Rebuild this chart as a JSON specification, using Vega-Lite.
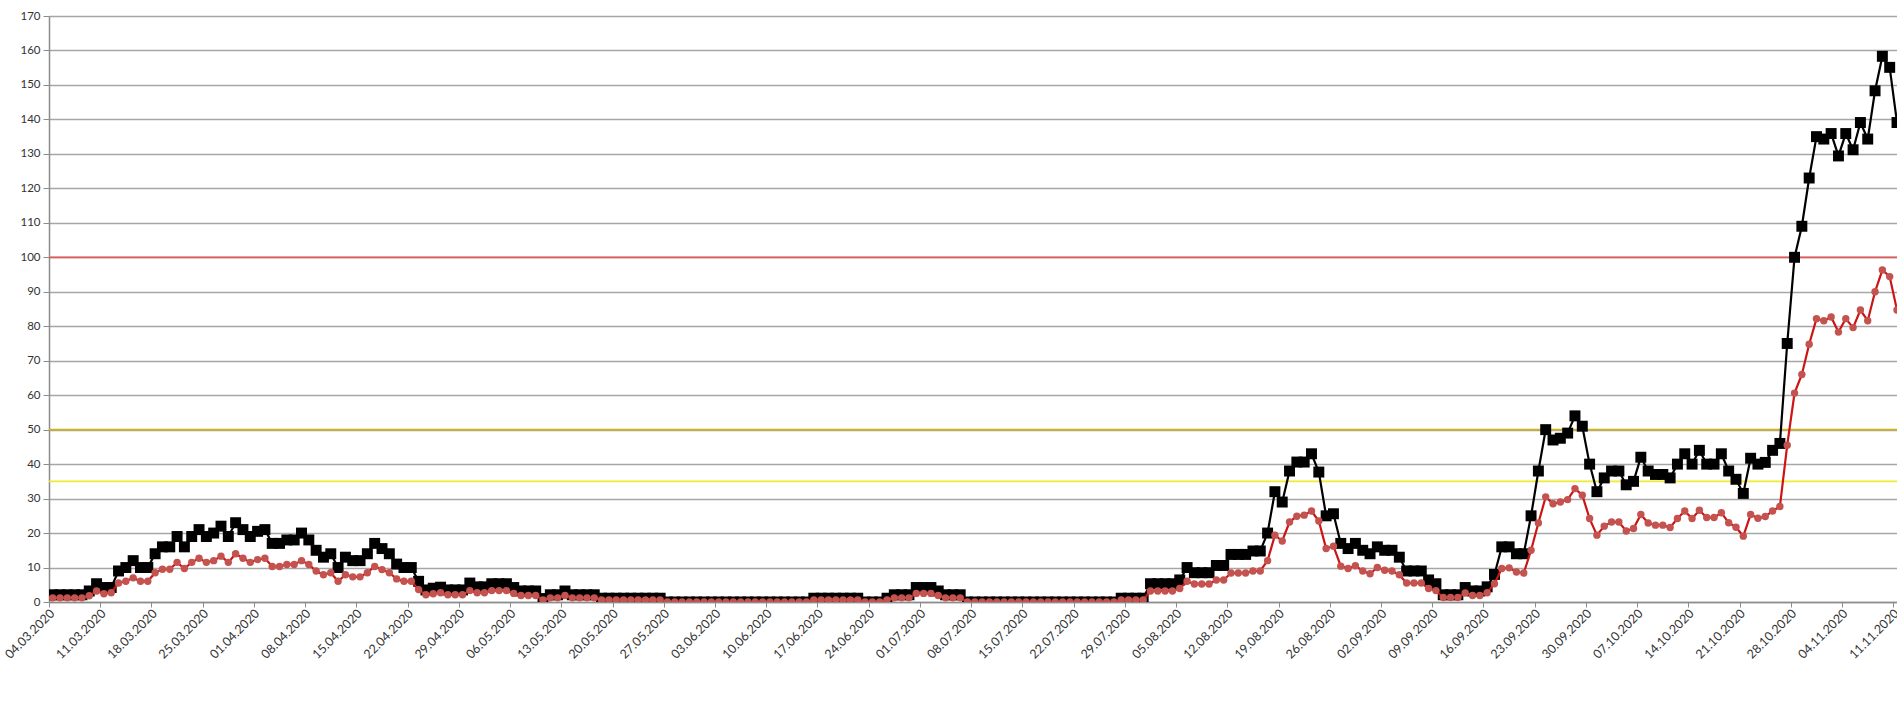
{
"$schema": "https://vega.github.io/schema/vega-lite/v6.json",
"width": 1848,
"height": 586,
"autosize": {"type": "none"},
"padding": {"left": 49, "top": 16, "right": 0, "bottom": 111},
"background": "white",
"config": {"view": {"stroke": null}, "font": "Lato",
"axisY": {"values": [0,5,10,15,20,25,30,35,40,45,50,55,60,65,70,75,80,85,90,95,100,105,110,115,120,125,130,135,140,145,150,155,160,165,170],
"title": null, "labelFontSize": 11.5, "labelColor": "#333333", "labelPadding": 3, "tickSize": 6, "tickColor": "#8C8C8C", "domainColor": "#8C8C8C", "domainWidth": 1.5, "gridColor": "#A6A6A6", "gridWidth": 1.5, "grid": true, "labelFont": "Lato"}
},
"datasets": {
"series": [
{"t":"2020-03-04","a":2.1,"b":1.2},{"t":"2020-03-05","a":2.1,"b":1.2},{"t":"2020-03-06","a":2.1,"b":1.2},{"t":"2020-03-07","a":2.1,"b":1.2},{"t":"2020-03-08","a":2.1,"b":1.2},
{"t":"2020-03-09","a":3.2,"b":1.8},{"t":"2020-03-10","a":5.3,"b":3.2},{"t":"2020-03-11","a":4.2,"b":2.4},{"t":"2020-03-12","a":4.2,"b":2.7},{"t":"2020-03-13","a":9,"b":5.5},
{"t":"2020-03-14","a":10,"b":6},{"t":"2020-03-15","a":12,"b":7},{"t":"2020-03-16","a":10,"b":6},{"t":"2020-03-17","a":10,"b":6},{"t":"2020-03-18","a":14,"b":8.5},
{"t":"2020-03-19","a":16,"b":9.5},{"t":"2020-03-20","a":16,"b":9.5},{"t":"2020-03-21","a":19,"b":11.5},{"t":"2020-03-22","a":16,"b":9.7},{"t":"2020-03-23","a":19,"b":11.5},
{"t":"2020-03-24","a":21,"b":12.7},{"t":"2020-03-25","a":19,"b":11.5},{"t":"2020-03-26","a":20,"b":12},{"t":"2020-03-27","a":22,"b":13.3},{"t":"2020-03-28","a":19,"b":11.5},
{"t":"2020-03-29","a":23,"b":14},{"t":"2020-03-30","a":21,"b":12.7},{"t":"2020-03-31","a":19,"b":11.5},
{"t":"2020-04-01","a":20.5,"b":12.3},{"t":"2020-04-02","a":21,"b":12.7},{"t":"2020-04-03","a":17,"b":10.3},{"t":"2020-04-04","a":17,"b":10.3},{"t":"2020-04-05","a":18,"b":10.9},
{"t":"2020-04-06","a":18,"b":10.9},{"t":"2020-04-07","a":20,"b":12},{"t":"2020-04-08","a":18,"b":10.9},{"t":"2020-04-09","a":15,"b":9},{"t":"2020-04-10","a":13,"b":7.9},
{"t":"2020-04-11","a":14,"b":8.5},{"t":"2020-04-12","a":10,"b":6},{"t":"2020-04-13","a":13,"b":7.9},{"t":"2020-04-14","a":12,"b":7.3},{"t":"2020-04-15","a":12,"b":7.3},
{"t":"2020-04-16","a":14,"b":8.5},{"t":"2020-04-17","a":17,"b":10.3},{"t":"2020-04-18","a":15.5,"b":9.4},{"t":"2020-04-19","a":14,"b":8.5},{"t":"2020-04-20","a":11,"b":6.7},
{"t":"2020-04-21","a":10,"b":6},{"t":"2020-04-22","a":10,"b":6},{"t":"2020-04-23","a":6,"b":3.6},{"t":"2020-04-24","a":3.5,"b":2.1},{"t":"2020-04-25","a":4,"b":2.4},
{"t":"2020-04-26","a":4.3,"b":2.7},{"t":"2020-04-27","a":3.5,"b":2.1},{"t":"2020-04-28","a":3.5,"b":2.1},{"t":"2020-04-29","a":3.5,"b":2.1},{"t":"2020-04-30","a":5.5,"b":3.3},
{"t":"2020-05-01","a":4.4,"b":2.7},{"t":"2020-05-02","a":4.4,"b":2.7},{"t":"2020-05-03","a":5.3,"b":3.3},{"t":"2020-05-04","a":5.3,"b":3.3},{"t":"2020-05-05","a":5.3,"b":3.3},
{"t":"2020-05-06","a":4.2,"b":2.5},{"t":"2020-05-07","a":3.2,"b":1.9},{"t":"2020-05-08","a":3.2,"b":1.9},{"t":"2020-05-09","a":3.2,"b":1.9},{"t":"2020-05-10","a":1,"b":0.6},
{"t":"2020-05-11","a":2.1,"b":1.2},{"t":"2020-05-12","a":2.1,"b":1.2},{"t":"2020-05-13","a":3.2,"b":1.9},{"t":"2020-05-14","a":2.1,"b":1.2},{"t":"2020-05-15","a":2.1,"b":1.2},
{"t":"2020-05-16","a":2.1,"b":1.2},{"t":"2020-05-17","a":2.1,"b":1.2},{"t":"2020-05-18","a":1.1,"b":0.6},{"t":"2020-05-19","a":1.1,"b":0.6},{"t":"2020-05-20","a":1.1,"b":0.6},
{"t":"2020-05-21","a":1.1,"b":0.6},{"t":"2020-05-22","a":1.1,"b":0.6},{"t":"2020-05-23","a":1.1,"b":0.6},{"t":"2020-05-24","a":1.1,"b":0.6},{"t":"2020-05-25","a":1.1,"b":0.6},
{"t":"2020-05-26","a":1.1,"b":0.6},{"t":"2020-05-27","a":0,"b":0},{"t":"2020-05-28","a":0,"b":0},{"t":"2020-05-29","a":0,"b":0},{"t":"2020-05-30","a":0,"b":0},
{"t":"2020-05-31","a":0,"b":0},
{"t":"2020-06-01","a":0,"b":0},{"t":"2020-06-02","a":0,"b":0},{"t":"2020-06-03","a":0,"b":0},{"t":"2020-06-04","a":0,"b":0},{"t":"2020-06-05","a":0,"b":0},
{"t":"2020-06-06","a":0,"b":0},{"t":"2020-06-07","a":0,"b":0},{"t":"2020-06-08","a":0,"b":0},{"t":"2020-06-09","a":0,"b":0},{"t":"2020-06-10","a":0,"b":0},
{"t":"2020-06-11","a":0,"b":0},{"t":"2020-06-12","a":0,"b":0},{"t":"2020-06-13","a":0,"b":0},{"t":"2020-06-14","a":0,"b":0},{"t":"2020-06-15","a":0,"b":0},
{"t":"2020-06-16","a":1.1,"b":0.6},{"t":"2020-06-17","a":1.1,"b":0.6},{"t":"2020-06-18","a":1.1,"b":0.6},{"t":"2020-06-19","a":1.1,"b":0.6},{"t":"2020-06-20","a":1.1,"b":0.6},
{"t":"2020-06-21","a":1.1,"b":0.6},{"t":"2020-06-22","a":1.1,"b":0.6},{"t":"2020-06-23","a":0,"b":0},{"t":"2020-06-24","a":0,"b":0},{"t":"2020-06-25","a":0,"b":0},
{"t":"2020-06-26","a":1.1,"b":0.6},{"t":"2020-06-27","a":2.1,"b":1.2},{"t":"2020-06-28","a":2.1,"b":1.2},{"t":"2020-06-29","a":2.1,"b":1.2},{"t":"2020-06-30","a":4.2,"b":2.5},
{"t":"2020-07-01","a":4.2,"b":2.5},{"t":"2020-07-02","a":4.2,"b":2.5},{"t":"2020-07-03","a":3.2,"b":1.9},{"t":"2020-07-04","a":2.1,"b":1.2},{"t":"2020-07-05","a":2.1,"b":1.2},
{"t":"2020-07-06","a":2.1,"b":1.2},{"t":"2020-07-07","a":0,"b":0},{"t":"2020-07-08","a":0,"b":0},{"t":"2020-07-09","a":0,"b":0},{"t":"2020-07-10","a":0,"b":0},
{"t":"2020-07-11","a":0,"b":0},{"t":"2020-07-12","a":0,"b":0},{"t":"2020-07-13","a":0,"b":0},{"t":"2020-07-14","a":0,"b":0},{"t":"2020-07-15","a":0,"b":0},
{"t":"2020-07-16","a":0,"b":0},{"t":"2020-07-17","a":0,"b":0},{"t":"2020-07-18","a":0,"b":0},{"t":"2020-07-19","a":0,"b":0},{"t":"2020-07-20","a":0,"b":0},
{"t":"2020-07-21","a":0,"b":0},{"t":"2020-07-22","a":0,"b":0},{"t":"2020-07-23","a":0,"b":0},{"t":"2020-07-24","a":0,"b":0},{"t":"2020-07-25","a":0,"b":0},
{"t":"2020-07-26","a":0,"b":0},{"t":"2020-07-27","a":0,"b":0},{"t":"2020-07-28","a":1.1,"b":0.6},{"t":"2020-07-29","a":1.1,"b":0.6},{"t":"2020-07-30","a":1.1,"b":0.6},
{"t":"2020-07-31","a":1.1,"b":0.6},
{"t":"2020-08-01","a":5.3,"b":3.2},{"t":"2020-08-02","a":5.3,"b":3.2},{"t":"2020-08-03","a":5.3,"b":3.2},{"t":"2020-08-04","a":5.3,"b":3.2},{"t":"2020-08-05","a":6.4,"b":3.9},
{"t":"2020-08-06","a":10,"b":6},{"t":"2020-08-07","a":8.5,"b":5.2},{"t":"2020-08-08","a":8.5,"b":5.2},{"t":"2020-08-09","a":8.5,"b":5.2},{"t":"2020-08-10","a":10.6,"b":6.4},
{"t":"2020-08-11","a":10.6,"b":6.4},{"t":"2020-08-12","a":13.8,"b":8.4},{"t":"2020-08-13","a":13.8,"b":8.4},{"t":"2020-08-14","a":13.8,"b":8.4},{"t":"2020-08-15","a":14.8,"b":9},
{"t":"2020-08-16","a":14.8,"b":9},{"t":"2020-08-17","a":20,"b":12},{"t":"2020-08-18","a":32,"b":19.4},{"t":"2020-08-19","a":29,"b":17.7},{"t":"2020-08-20","a":38,"b":23.2},
{"t":"2020-08-21","a":40.6,"b":24.9},{"t":"2020-08-22","a":40.6,"b":25.2},{"t":"2020-08-23","a":43,"b":26.4},{"t":"2020-08-24","a":37.7,"b":23.5},{"t":"2020-08-25","a":25,"b":15.5},
{"t":"2020-08-26","a":25.6,"b":16.2},{"t":"2020-08-27","a":17,"b":10.4},{"t":"2020-08-28","a":15.5,"b":9.7},{"t":"2020-08-29","a":17,"b":10.5},{"t":"2020-08-30","a":15,"b":9},
{"t":"2020-08-31","a":14,"b":8.2},
{"t":"2020-09-01","a":16,"b":10},{"t":"2020-09-02","a":15,"b":9.2},{"t":"2020-09-03","a":15,"b":9},{"t":"2020-09-04","a":13,"b":7.9},{"t":"2020-09-05","a":9,"b":5.5},
{"t":"2020-09-06","a":9,"b":5.5},{"t":"2020-09-07","a":9,"b":5.5},{"t":"2020-09-08","a":6.4,"b":3.9},{"t":"2020-09-09","a":5.3,"b":3.3},{"t":"2020-09-10","a":2.1,"b":1.3},
{"t":"2020-09-11","a":2.1,"b":1.3},{"t":"2020-09-12","a":2.1,"b":1.3},{"t":"2020-09-13","a":4.2,"b":2.6},{"t":"2020-09-14","a":3.2,"b":1.9},{"t":"2020-09-15","a":3.2,"b":1.9},
{"t":"2020-09-16","a":4.4,"b":2.7},{"t":"2020-09-17","a":8,"b":5.3},{"t":"2020-09-18","a":16,"b":9.7},{"t":"2020-09-19","a":16,"b":9.9},{"t":"2020-09-20","a":14,"b":8.7},
{"t":"2020-09-21","a":14,"b":8.4},{"t":"2020-09-22","a":25,"b":15},{"t":"2020-09-23","a":38,"b":22.9},{"t":"2020-09-24","a":50,"b":30.5},{"t":"2020-09-25","a":47,"b":28.5},
{"t":"2020-09-26","a":47.5,"b":29},{"t":"2020-09-27","a":49,"b":29.7},{"t":"2020-09-28","a":54,"b":32.9},{"t":"2020-09-29","a":51,"b":31},{"t":"2020-09-30","a":40,"b":24.2},
{"t":"2020-10-01","a":32,"b":19.4},{"t":"2020-10-02","a":36,"b":22},{"t":"2020-10-03","a":38,"b":23.2},{"t":"2020-10-04","a":38,"b":23.2},{"t":"2020-10-05","a":34,"b":20.6},
{"t":"2020-10-06","a":35,"b":21.3},{"t":"2020-10-07","a":42,"b":25.4},{"t":"2020-10-08","a":38,"b":22.9},{"t":"2020-10-09","a":37,"b":22.3},{"t":"2020-10-10","a":37,"b":22.3},
{"t":"2020-10-11","a":36,"b":21.6},{"t":"2020-10-12","a":40,"b":24.2},{"t":"2020-10-13","a":43,"b":26.4},{"t":"2020-10-14","a":40,"b":24.2},{"t":"2020-10-15","a":44,"b":26.6},
{"t":"2020-10-16","a":40,"b":24.5},{"t":"2020-10-17","a":40,"b":24.5},{"t":"2020-10-18","a":43,"b":25.9},{"t":"2020-10-19","a":38,"b":23},{"t":"2020-10-20","a":35.6,"b":21.7},
{"t":"2020-10-21","a":31.5,"b":19.1},{"t":"2020-10-22","a":41.7,"b":25.4},{"t":"2020-10-23","a":40,"b":24.3},{"t":"2020-10-24","a":40.5,"b":24.8},{"t":"2020-10-25","a":44,"b":26.4},
{"t":"2020-10-26","a":46,"b":27.7},{"t":"2020-10-27","a":75,"b":45.5},{"t":"2020-10-28","a":100,"b":60.6},{"t":"2020-10-29","a":109,"b":66},{"t":"2020-10-30","a":123,"b":74.8},
{"t":"2020-10-31","a":135,"b":82.2},
{"t":"2020-11-01","a":134.3,"b":81.6},{"t":"2020-11-02","a":135.9,"b":82.7},{"t":"2020-11-03","a":129.4,"b":78.3},{"t":"2020-11-04","a":135.9,"b":82.2},{"t":"2020-11-05","a":131.2,"b":79.6},
{"t":"2020-11-06","a":139.1,"b":84.7},{"t":"2020-11-07","a":134.3,"b":81.6},{"t":"2020-11-08","a":148.3,"b":90},{"t":"2020-11-09","a":158.3,"b":96.3},{"t":"2020-11-10","a":155.1,"b":94.4},
{"t":"2020-11-11","a":139.1,"b":84.7}
],
"limits": [{"v": 35, "k": "l35"}, {"v": 50, "k": "l50"}, {"v": 100, "k": "l100"}]
},
"layer": [
{
"data": {"name": "limits"},
"mark": {"type": "rule", "strokeWidth": 1.8},
"encoding": {
"y": {"field": "v", "type": "quantitative", "scale": {"domain": [0, 170], "nice": false, "zero": true}},
"color": {"field": "k", "type": "nominal", "scale": {"domain": ["l35", "l50", "l100"], "range": ["#ECEC30", "#D2B21A", "#E05A5A"]}, "legend": null}
}
},
{
"data": {"name": "series"},
"mark": {"type": "line", "color": "#000000", "strokeWidth": 2.2, "clip": true, "point": {"shape": "square", "size": 120, "filled": true, "color": "#000000", "opacity": 1}},
"encoding": {
"x": {"field": "t", "type": "temporal", "timeUnit": "utcyearmonthdate", "bandPosition": 0.5,
"scale": {"type": "utc", "domain": [{"year": 2020, "month": 3, "date": 4, "utc": true}, {"year": 2020, "month": 11, "date": 11, "hours": 12, "utc": true}], "nice": false},
"axis": {"title": null, "format": "%d.%m.%Y", "labelAngle": -45, "labelAlign": "right", "labelBaseline": "middle", "labelFontSize": 12.5, "labelColor": "#333333", "labelOverlap": false, "labelFlush": false, "labelPadding": 4, "labelOffset": 3, "labelFont": "Lato",
"tickSize": 5, "tickColor": "#8C8C8C", "domainColor": "#8C8C8C", "domainWidth": 1.5, "grid": false,
"values": [
{"year":2020,"month":3,"date":4,"utc":true},{"year":2020,"month":3,"date":11,"utc":true},{"year":2020,"month":3,"date":18,"utc":true},{"year":2020,"month":3,"date":25,"utc":true},
{"year":2020,"month":4,"date":1,"utc":true},{"year":2020,"month":4,"date":8,"utc":true},{"year":2020,"month":4,"date":15,"utc":true},{"year":2020,"month":4,"date":22,"utc":true},{"year":2020,"month":4,"date":29,"utc":true},
{"year":2020,"month":5,"date":6,"utc":true},{"year":2020,"month":5,"date":13,"utc":true},{"year":2020,"month":5,"date":20,"utc":true},{"year":2020,"month":5,"date":27,"utc":true},
{"year":2020,"month":6,"date":3,"utc":true},{"year":2020,"month":6,"date":10,"utc":true},{"year":2020,"month":6,"date":17,"utc":true},{"year":2020,"month":6,"date":24,"utc":true},
{"year":2020,"month":7,"date":1,"utc":true},{"year":2020,"month":7,"date":8,"utc":true},{"year":2020,"month":7,"date":15,"utc":true},{"year":2020,"month":7,"date":22,"utc":true},{"year":2020,"month":7,"date":29,"utc":true},
{"year":2020,"month":8,"date":5,"utc":true},{"year":2020,"month":8,"date":12,"utc":true},{"year":2020,"month":8,"date":19,"utc":true},{"year":2020,"month":8,"date":26,"utc":true},
{"year":2020,"month":9,"date":2,"utc":true},{"year":2020,"month":9,"date":9,"utc":true},{"year":2020,"month":9,"date":16,"utc":true},{"year":2020,"month":9,"date":23,"utc":true},{"year":2020,"month":9,"date":30,"utc":true},
{"year":2020,"month":10,"date":7,"utc":true},{"year":2020,"month":10,"date":14,"utc":true},{"year":2020,"month":10,"date":21,"utc":true},{"year":2020,"month":10,"date":28,"utc":true},
{"year":2020,"month":11,"date":4,"utc":true},{"year":2020,"month":11,"date":11,"utc":true}
]}},
"y": {"field": "a", "type": "quantitative"}
}
},
{
"data": {"name": "series"},
"mark": {"type": "line", "color": "#CC1414", "strokeWidth": 2.2, "clip": true, "point": {"shape": "circle", "size": 55, "filled": true, "color": "#C4524F", "opacity": 1}},
"encoding": {
"x": {"field": "t", "type": "temporal", "timeUnit": "utcyearmonthdate", "bandPosition": 0.5},
"y": {"field": "b", "type": "quantitative"}
}
}
]
}
